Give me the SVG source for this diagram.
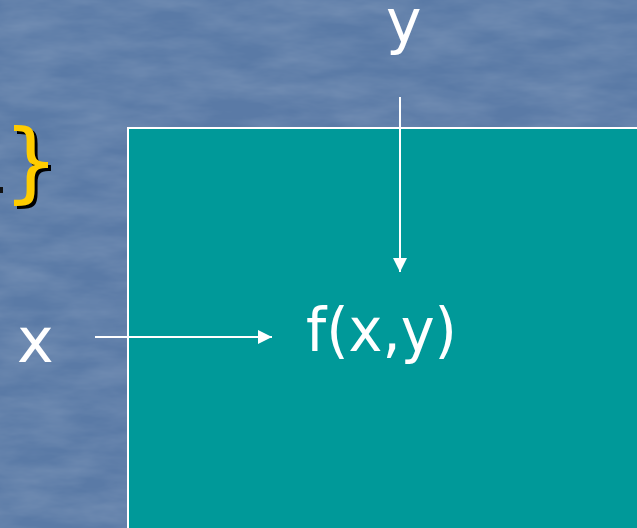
<svg xmlns="http://www.w3.org/2000/svg" width="637" height="528" viewBox="0 0 637 528">
  <defs>
    <style>
      .lbl { font-family: "DejaVu Sans", "Liberation Sans", sans-serif; fill: #ffffff; }
      .brace { font-family: "DejaVu Sans", "Liberation Sans", sans-serif; font-size: 88px; }
      .conn { stroke: #ffffff; stroke-width: 2; fill: none; }
    </style>
    <marker id="arrow" viewBox="0 0 14 14" refX="14" refY="7" markerWidth="14" markerHeight="14" markerUnits="userSpaceOnUse" orient="auto">
      <path d="M0,0 L14,7 L0,14 Z" fill="#ffffff"/>
    </marker>
    <filter id="tex" x="0" y="0" width="100%" height="100%">
      <feTurbulence type="fractalNoise" baseFrequency="0.015 0.05" numOctaves="4" seed="3" result="n"/>
      <feColorMatrix in="n" type="matrix" values="0 0 0 0 1  0 0 0 0 1  0 0 0 0 1  0 0 0 0.22 -0.06"/>
    </filter>
  </defs>
  <g id="background">
    <rect x="0" y="0" width="637" height="528" fill="#5a7aa6"/>
    <rect x="0" y="0" width="637" height="528" filter="url(#tex)"/>
  </g>
  <g id="box">
    <rect x="128" y="128" width="520" height="410" fill="#009999" stroke="#ffffff" stroke-width="2"/>
  </g>
  <g id="brace">
    <rect x="0" y="187" width="3" height="6" fill="#111111"/>
    <text class="brace" x="6" y="194" fill="#000000">}</text>
    <text class="brace" x="3" y="191" fill="#ffcc00">}</text>
  </g>
  <g id="node-y">
    <text class="lbl" x="386" y="42" font-size="60">y</text>
  </g>
  <g id="node-x">
    <text class="lbl" x="17" y="362" font-size="62">x</text>
  </g>
  <g id="node-f">
    <text class="lbl" x="306" y="351" font-size="61" textLength="151" lengthAdjust="spacingAndGlyphs">f(x,y)</text>
  </g>
  <g id="connectors">
    <line class="conn" x1="400" y1="97" x2="400" y2="272" marker-end="url(#arrow)"/>
    <line class="conn" x1="95" y1="337" x2="272" y2="337" marker-end="url(#arrow)"/>
  </g>
</svg>
